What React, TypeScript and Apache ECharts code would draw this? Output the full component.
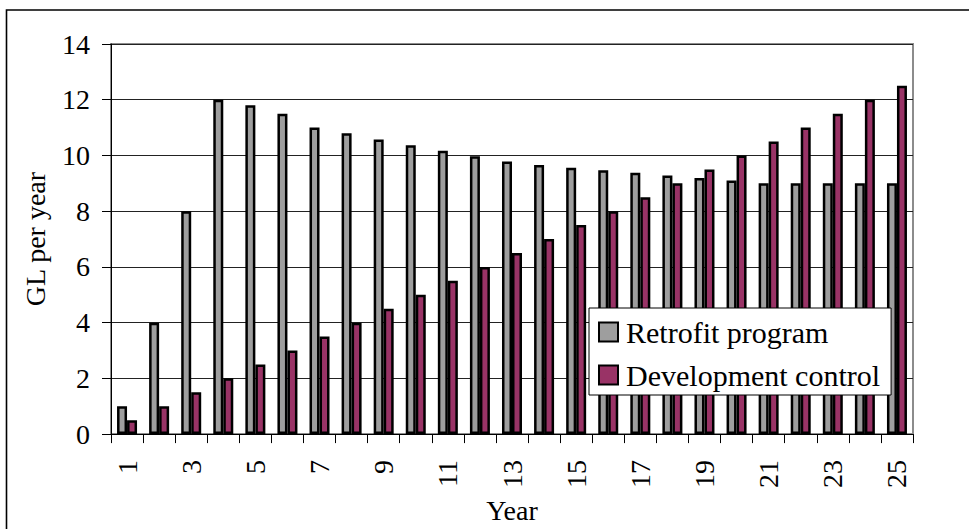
import React, { useEffect, useRef } from "react";
import * as echarts from "echarts";

const years: string[] = [
  "1", "2", "3", "4", "5", "6", "7", "8", "9", "10", "11", "12", "13",
  "14", "15", "16", "17", "18", "19", "20", "21", "22", "23", "24", "25",
];
const retrofit: number[] = [
  1, 4, 8, 12, 11.8, 11.5, 11, 10.8, 10.57, 10.37, 10.17, 9.97, 9.78,
  9.66, 9.56, 9.47, 9.38, 9.28, 9.19, 9.1, 9, 9, 9, 9, 9,
];
const development: number[] = [
  0.5, 1, 1.5, 2, 2.5, 3, 3.5, 4, 4.5, 5, 5.5, 6, 6.5,
  7, 7.5, 8, 8.5, 9, 9.5, 10, 10.5, 11, 11.5, 12, 12.5,
];
const seriesNames: string[] = ["Retrofit program", "Development control"];
const yTicks = { min: 0, max: 14, interval: 2 };

const FONT = "'Liberation Serif', 'Times New Roman', serif";

export default function App() {
  const ref = useRef<HTMLDivElement>(null);
  useEffect(() => {
    document.body.style.margin = "0";
    if (!ref.current) return;
    const chart = echarts.init(ref.current, undefined, { renderer: "svg" });
    chart.setOption({
      animation: false,
      backgroundColor: "#fff",
      textStyle: { fontFamily: FONT, color: "#000" },
      graphic: [
        {
          type: "rect",
          shape: { x: 6.5, y: 10, width: 1000, height: 600 },
          style: { fill: "none", stroke: "#000", lineWidth: 1.6 },
          silent: true,
          z: 100,
        },
      ],
      grid: {
        left: 111,
        right: 56,
        top: 44,
        bottom: 90,
        show: true,
        borderColor: "#8c8c8c",
        borderWidth: 2,
        backgroundColor: "#fff",
      },
      legend: {
        orient: "vertical",
        left: 589,
        top: 308,
        padding: [9, 11, 5, 9],
        backgroundColor: "#fff",
        borderColor: "#000",
        borderWidth: 1,
        itemWidth: 19,
        itemHeight: 19,
        itemGap: 13,
        icon: "rect",
        textStyle: {
          fontFamily: FONT,
          fontSize: 30,
          color: "#000",
          lineHeight: 30,
          padding: [0, 0, 0, 3],
        },
        data: seriesNames,
      },
      xAxis: {
        type: "category",
        data: years,
        name: "Year",
        nameLocation: "middle",
        nameGap: 58,
        nameTextStyle: { fontFamily: FONT, fontSize: 28, color: "#000" },
        axisLine: { show: true, lineStyle: { color: "#000", width: 1 } },
        axisTick: { show: true, interval: 0, length: 9, lineStyle: { color: "#000" } },
        axisLabel: {
          interval: 1,
          rotate: 90,
          margin: 26,
          fontFamily: FONT,
          fontSize: 28,
          color: "#000",
        },
        splitLine: { show: false },
      },
      yAxis: {
        type: "value",
        min: yTicks.min,
        max: yTicks.max,
        interval: yTicks.interval,
        name: "GL per year",
        nameLocation: "middle",
        nameGap: 62,
        nameTextStyle: { fontFamily: FONT, fontSize: 28, color: "#000" },
        axisLine: { show: true, lineStyle: { color: "#000", width: 1 } },
        axisTick: { show: true, length: 9, lineStyle: { color: "#000" } },
        axisLabel: { margin: 21, fontFamily: FONT, fontSize: 28, color: "#000" },
        splitLine: { show: true, lineStyle: { color: "#222", width: 1 } },
      },
      series: [
        {
          name: seriesNames[0],
          type: "bar",
          data: retrofit,
          barWidth: 10,
          barGap: "0%",
          itemStyle: { color: "#9e9e9e", borderColor: "#000", borderWidth: 2.5 },
        },
        {
          name: seriesNames[1],
          type: "bar",
          data: development,
          barWidth: 10,
          barGap: "0%",
          itemStyle: { color: "#993366", borderColor: "#000", borderWidth: 2.5 },
        },
      ],
    });
    return () => chart.dispose();
  }, []);
  return <div ref={ref} style={{ width: 969, height: 529 }} />;
}
